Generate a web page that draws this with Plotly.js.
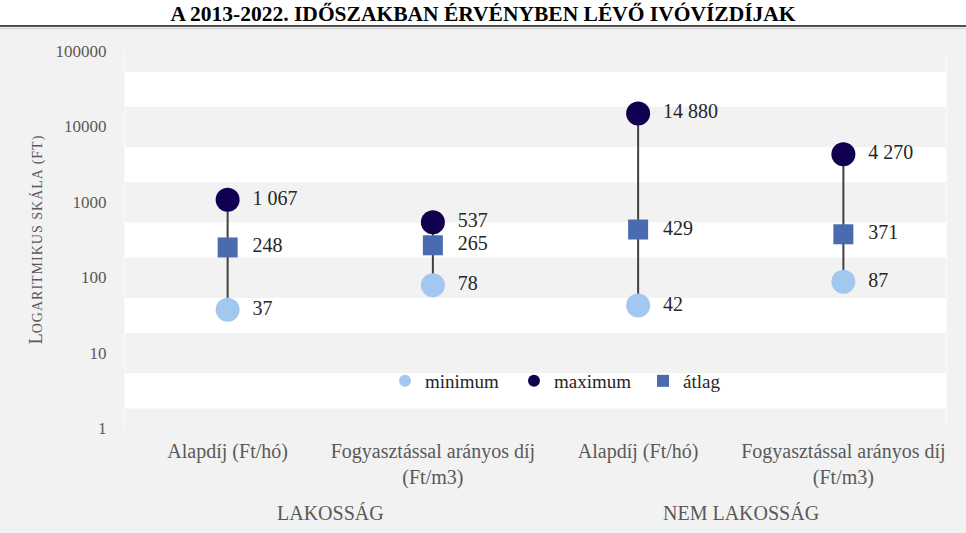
<!DOCTYPE html>
<html>
<head>
<meta charset="utf-8">
<script src="https://cdn.plot.ly/plotly-3.0.1.min.js"></script>
<style>
html,body{margin:0;padding:0;background:#f2f2f2;}
#chart{width:966px;height:533px;}
</style>
</head>
<body>
<div id="chart"></div>
<script>
// ---- data ----
var categories = ['Alapdíj (Ft/hó)', 'Fogyasztással arányos díj<br>(Ft/m3)', 'Alapdíj (Ft/hó)', 'Fogyasztással arányos díj<br>(Ft/m3)'];
var groups = ['LAKOSSÁG', 'NEM LAKOSSÁG'];
var minimum = [37, 78, 42, 87];
var maximum = [1067, 537, 14880, 4270];
var atlag = [248, 265, 429, 371];
var yTickVals = [1, 10, 100, 1000, 10000, 100000];
var yTickText = ['1', '10', '100', '1000', '10000', '100000'];
var seriesNames = ['minimum', 'maximum', 'átlag'];

// ---- build ----
var xs = categories.map(function(_, i){ return i; });
var FONT = '"Liberation Serif", "Times New Roman", serif';

function fmt(v){
  var s = String(Math.round(v));
  return s.replace(/\B(?=(\d{3})+(?!\d))/g, ' ');
}

var lineX = [], lineY = [];
xs.forEach(function(x, i){
  lineX.push(x, x, null);
  lineY.push(minimum[i], maximum[i], null);
});

var labX = [], labY = [], labT = [];
[minimum, maximum, atlag].forEach(function(arr){
  arr.forEach(function(v, i){ labX.push(xs[i]); labY.push(v); labT.push(fmt(v)); });
});

var traces = [
  {x: lineX, y: lineY, mode: 'lines', line: {color: '#404040', width: 2}, showlegend: false, hoverinfo: 'skip'},
  {x: xs, y: minimum, name: seriesNames[0], mode: 'markers', marker: {symbol: 'circle', size: 24, color: '#a3c8f0'}},
  {x: xs, y: maximum, name: seriesNames[1], mode: 'markers', marker: {symbol: 'circle', size: 24, color: '#10004f'}},
  {x: xs, y: atlag, name: seriesNames[2], mode: 'markers', marker: {symbol: 'square', size: 20, color: '#4a6bb0'}},
  {x: labX, y: labY, text: labT, mode: 'markers+text', textposition: 'middle right',
   marker: {size: 38, color: 'rgba(0,0,0,0)'}, textfont: {family: FONT, size: 20, color: '#262626'},
   showlegend: false, hoverinfo: 'skip'}
];

// white bands between decades
var shapes = [];
for (var n = 0; n < 5; n++) {
  shapes.push({type: 'rect', xref: 'paper', yref: 'y', x0: 0, x1: 1,
    y0: Math.pow(10, n + 0.26), y1: Math.pow(10, n + 0.725),
    fillcolor: '#ffffff', line: {width: 0}, layer: 'below'});
}
// header strip
var plotL = 125, plotR = 946, plotT = 51, plotB = 428;
var pw = plotR - plotL, ph = plotB - plotT;
function px2paperX(p){ return (p - plotL) / pw; }
function px2paperY(p){ return (plotB - p) / ph; }
shapes.push({type: 'rect', xref: 'paper', yref: 'paper', x0: px2paperX(0), x1: px2paperX(966),
  y0: px2paperY(25), y1: px2paperY(0), fillcolor: '#ffffff', line: {width: 0}, layer: 'below'});
shapes.push({type: 'line', xref: 'paper', yref: 'paper', x0: px2paperX(0), x1: px2paperX(966),
  y0: px2paperY(26), y1: px2paperY(26), line: {color: '#505050', width: 2}});
shapes.push({type: 'line', xref: 'paper', yref: 'paper', x0: px2paperX(0), x1: px2paperX(966),
  y0: px2paperY(28.5), y1: px2paperY(28.5), line: {color: '#d0d0d0', width: 1}});

var annotations = groups.map(function(g, i){
  return {text: g, xref: 'x', yref: 'paper', x: i * 2 + 0.5, y: px2paperY(513),
    yanchor: 'middle', xanchor: 'center', showarrow: false,
    font: {family: FONT, size: 20, color: '#595959'}};
});

var layout = {
  width: 966, height: 533,
  margin: {l: plotL, r: 966 - plotR, t: plotT, b: 533 - plotB},
  paper_bgcolor: '#f2f2f2',
  plot_bgcolor: '#f2f2f2',
  font: {family: FONT, color: '#595959'},
  title: {text: '<b>A 2013-2022. IDŐSZAKBAN ÉRVÉNYBEN LÉVŐ IVÓVÍZDÍJAK</b>',
    x: 0.5, xref: 'container', y: 1 - 13 / 533, yref: 'container', yanchor: 'middle', xanchor: 'center',
    font: {family: FONT, size: 21.5, color: '#000000'}},
  xaxis: {
    range: [-0.5, 3.5], tickvals: xs, ticktext: categories,
    showgrid: false, zeroline: false, ticks: '', showline: false,
    tickfont: {family: FONT, size: 20, color: '#595959'},
    ticklabelstandoff: 9
  },
  yaxis: {
    type: 'log', range: [0, 5], tickvals: yTickVals, ticktext: yTickText,
    showgrid: false, zeroline: false, ticks: '', showline: true, mirror: true, linecolor: '#fafafa', linewidth: 1,
    tickfont: {family: FONT, size: 17, color: '#595959'},
    ticklabelstandoff: 14,
    title: {text: 'L<span style="font-size:14px;letter-spacing:1px">OGARITMIKUS SKÁLA (FT)</span>', standoff: 8,
      font: {family: FONT, size: 18, color: '#595959'}}
  },
  legend: {orientation: 'h', x: px2paperX(385), xanchor: 'left', y: px2paperY(381), yanchor: 'middle',
    bgcolor: 'rgba(0,0,0,0)', itemsizing: 'constant', traceorder: 'normal', entrywidth: 84,
    font: {family: FONT, size: 19, color: '#262626'}},
  shapes: shapes,
  annotations: annotations,
  hovermode: false
};

Plotly.newPlot('chart', traces, layout, {displayModeBar: false, staticPlot: true});
</script>
</body>
</html>
